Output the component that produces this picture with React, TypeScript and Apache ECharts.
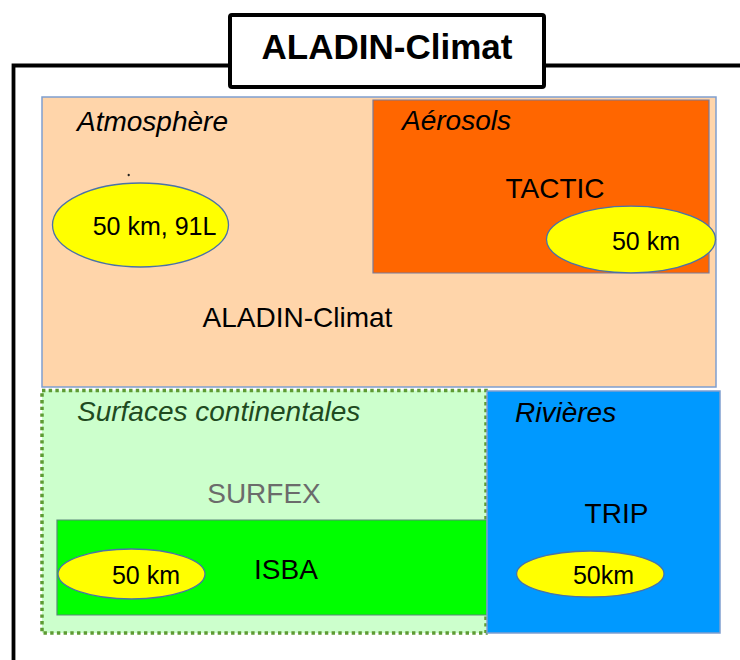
import React, { useEffect, useRef } from "react";
import * as echarts from "echarts";

// Diagram content (labels only)
const title = "ALADIN-Climat";
const domains = ["Atmosphère", "Aérosols", "Surfaces continentales", "Rivières"];
const models = ["ALADIN-Climat", "TACTIC", "SURFEX", "ISBA", "TRIP"];
const resolutions = ["50 km, 91L", "50 km", "50 km", "50km"];

const FONT = '"Liberation Sans", Arial, sans-serif';

function txt(text: string, x: number, y: number, opts: any = {}) {
  const align = opts.align || "center";
  return {
    type: "text",
    z: opts.z || 50,
    style: {
      text,
      x,
      y,
      fill: opts.fill || "#000",
      fontSize: opts.size || 28,
      fontFamily: FONT,
      fontStyle: opts.italic ? "italic" : "normal",
      fontWeight: opts.bold ? "bold" : "normal",
      align,
      textAlign: align,
      verticalAlign: "middle",
      textVerticalAlign: "middle",
    },
  };
}

function box(x: number, y: number, w: number, h: number, fill: string, stroke: string, lw = 1.5, z = 1, dash?: number[]) {
  return {
    type: "rect",
    z,
    shape: { x, y, width: w, height: h },
    style: { fill, stroke, lineWidth: lw, lineDash: dash },
  };
}

function ell(cx: number, cy: number, rx: number, ry: number, z = 20) {
  return {
    type: "ellipse",
    z,
    shape: { cx, cy, rx, ry },
    style: { fill: "#ffff00", stroke: "#4a72a8", lineWidth: 1.3 },
  };
}

export default function App() {
  const ref = useRef<HTMLDivElement>(null);
  useEffect(() => {
    if (!ref.current) return;
    const chart = echarts.init(ref.current, undefined, { renderer: "svg" });
    const elements: any[] = [
      // outer frame
      {
        type: "polyline",
        z: 0,
        shape: { points: [[742, 65.5], [13.5, 65.5], [13.5, 665]] },
        style: { stroke: "#000", lineWidth: 3.8, fill: null },
      },
      // title box
      {
        type: "rect",
        z: 60,
        shape: { x: 230, y: 15, width: 314, height: 72, r: 2 },
        style: { fill: "#fff", stroke: "#000", lineWidth: 4 },
      },
      txt(title, 387, 46, { bold: true, size: 35, z: 70 }),
      // atmosphere
      box(42, 97, 674, 290, "#ffd5aa", "#7f9fcf", 1.5, 1),
      box(373, 100, 336, 173, "#ff6600", "#7a7a9a", 1.2, 2),
      txt(domains[0], 77, 121, { italic: true, align: "left" }),
      txt(domains[1], 402, 120, { italic: true, align: "left" }),
      {
        type: "circle",
        z: 5,
        shape: { cx: 128.7, cy: 175, r: 1.2 },
        style: { fill: "#222" },
      },
      ell(140.5, 225, 88, 42),
      txt(resolutions[0], 154.5, 226, { size: 25 }),
      txt(models[1], 555, 188),
      ell(631, 239.5, 84.5, 33.3),
      txt(resolutions[1], 646, 241, { size: 25 }),
      txt(models[0], 297.5, 317),
      // surfaces
      box(42, 390.5, 444, 242.5, "#ccffcc", "#5e9b33", 3.5, 3, [3.4, 3.3]),
      txt(domains[2], 77, 411, { italic: true, align: "left", fill: "#1f4a1f" }),
      txt(models[2], 264, 493, { fill: "#6b6b6b" }),
      box(57, 520, 430, 95, "#00ff00", "#5a8a78", 1.2, 4),
      ell(131.5, 574, 73.5, 25),
      txt(resolutions[2], 146, 575, { size: 25 }),
      txt(models[3], 286, 569),
      // rivers
      box(487, 391, 233, 242, "#0099ff", "#7f9fcf", 1.5, 4),
      txt(domains[3], 515, 412, { italic: true, align: "left" }),
      txt(models[4], 616.5, 513),
      ell(590.3, 574, 73.7, 23),
      txt(resolutions[3], 603.5, 575, { size: 25 }),
    ];
    chart.setOption({
      animation: false,
      backgroundColor: "#ffffff",
      graphic: { elements },
    });
    return () => chart.dispose();
  }, []);
  return (
    <div
      ref={ref}
      style={{ position: "fixed", left: 0, top: 0, width: 740, height: 660 }}
    />
  );
}
